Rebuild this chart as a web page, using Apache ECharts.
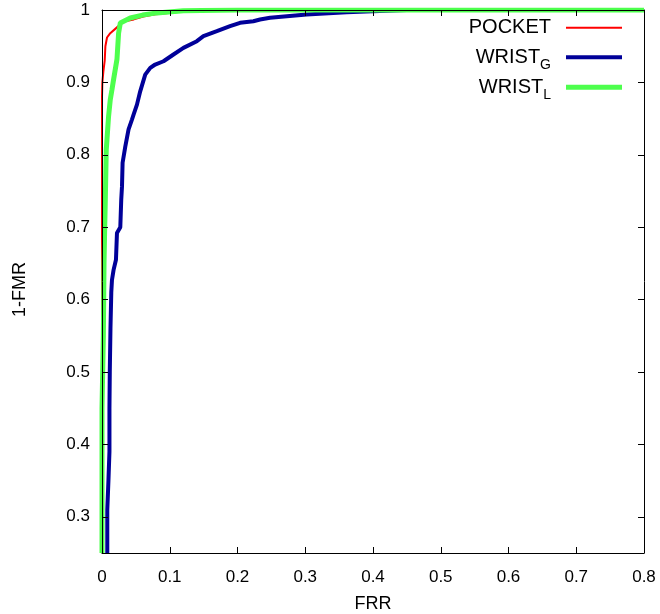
<!DOCTYPE html>
<html>
<head>
<meta charset="utf-8">
<script src="https://cdn.jsdelivr.net/npm/echarts@6/dist/echarts.min.js"></script>
<style>
  html, body { margin: 0; padding: 0; background: #fff; }
  #chart { width: 660px; height: 614px; }
</style>
</head>
<body>
<div id="chart"></div>
<script>
    // ROC-style curves: FRR on x, 1-FMR on y.
    var pocketFrr = [0, 0, 0, 0.0005, 0.002, 0.004, 0.005, 0.0074, 0.0122, 0.0221, 0.032, 0.047, 0.061, 0.079, 0.12, 0.2, 0.8];
    var pocketGar = [0.25, 0.6, 0.88, 0.9, 0.915, 0.93, 0.95, 0.962, 0.968, 0.976, 0.984, 0.987, 0.991, 0.994, 0.998, 1, 1];

    var wristGFrr = [0.0078, 0.0078, 0.0095, 0.011, 0.011, 0.0115, 0.0125, 0.0137, 0.0147, 0.0171, 0.0206, 0.0221, 0.027,
        0.0284, 0.0295, 0.0304, 0.0343, 0.0392, 0.0442, 0.0466, 0.0516, 0.0564, 0.0638, 0.0712, 0.0785, 0.0908, 0.1055,
        0.1202, 0.14, 0.1497, 0.1695, 0.189, 0.2038, 0.2234, 0.2333, 0.248, 0.302, 0.361, 0.40, 0.45, 0.8];
    var wristGGar = [0.25, 0.31, 0.35, 0.39, 0.45, 0.50, 0.56, 0.61, 0.627, 0.641, 0.655, 0.692, 0.70,
        0.738, 0.756, 0.789, 0.811, 0.835, 0.8486, 0.8555, 0.8693, 0.8877, 0.9108, 0.92, 0.9247, 0.9292, 0.9385,
        0.9477, 0.9569, 0.9638, 0.9707, 0.9776, 0.9823, 0.9845, 0.9869, 0.9892, 0.9938, 0.997, 0.9983, 1, 1];

    var wristLFrr = [0, 0, 0.002, 0.003, 0.004, 0.0049, 0.0063, 0.0097, 0.0122, 0.0147, 0.0171, 0.0221, 0.0245, 0.027, 0.0417, 0.06, 0.081, 0.12, 0.2, 0.8];
    var wristLGar = [0.25, 0.45, 0.55, 0.65, 0.70, 0.738, 0.807, 0.853, 0.876, 0.89, 0.904, 0.932, 0.968, 0.982, 0.989, 0.993, 0.996, 0.999, 1, 1];

    var yTicks = [0.3, 0.4, 0.5, 0.6, 0.7, 0.8, 0.9, 1];

    var FONT = '"Liberation Sans", Arial, Helvetica, sans-serif';
    var BLACK = '#000';

    function zip(xs, ys) {
        return xs.map(function (x, i) { return [x, ys[i]]; });
    }

    var rich = {
        a: { fontFamily: FONT, fontSize: 20, lineHeight: 30, color: BLACK },
        s: { fontFamily: FONT, fontSize: 14, lineHeight: 30, verticalAlign: 'bottom', color: BLACK },
        sp: { width: 10, lineHeight: 30 }
    };

    /** One legend box per entry so every key line lines up on the right. */
    function legendEntry(name, label, color, thick, top) {
        return {
            data: [name],
            orient: 'vertical',
            right: 38,
            top: top,
            padding: 0,
            align: 'right',
            icon: 'rect',
            itemWidth: 56,
            itemHeight: thick,
            itemStyle: { color: color, borderWidth: 0 },
            formatter: function () { return label + '{sp| }'; },
            textStyle: { rich: rich },
            selectedMode: false
        };
    }

    var tickStyle = { show: true, inside: true, length: 6, lineStyle: { color: BLACK, width: 1 } };
    var lineStyleAxis = { show: true, onZero: false, lineStyle: { color: BLACK, width: 1 } };

    var chart = echarts.init(document.getElementById('chart'), null, { renderer: 'canvas' });
    chart.setOption({
        animation: false,
        backgroundColor: '#fff',
        grid: { left: 102, right: 16, top: 10, bottom: 61, containLabel: false, outerBoundsMode: 'none' },
        legend: [
            legendEntry('POCKET', '{a|POCKET}', '#ff0000', 2, 17.7),
            legendEntry('WRIST_G', '{a|WRIST}{s|G}', '#000099', 4, 47.3),
            legendEntry('WRIST_L', '{a|WRIST}{s|L}', '#4dff4d', 5, 77.3)
        ],
        xAxis: [{
            type: 'value', min: 0, max: 0.8, interval: 0.1, z: 10,
            name: 'FRR', nameLocation: 'middle', nameGap: 42,
            nameTextStyle: { fontFamily: FONT, fontSize: 18, color: BLACK },
            axisLine: lineStyleAxis, axisTick: tickStyle,
            axisLabel: { fontFamily: FONT, fontSize: 17, color: BLACK, margin: 16 },
            splitLine: { show: false }
        }, {
            type: 'value', position: 'top', min: 0, max: 0.8, interval: 0.1, z: 10,
            axisLine: lineStyleAxis, axisTick: tickStyle,
            axisLabel: { show: false }, splitLine: { show: false }
        }],
        yAxis: [{
            type: 'value', min: 0.25, max: 1, z: 10,
            name: '1-FMR', nameLocation: 'middle', nameGap: 73, nameRotate: 90,
            nameTextStyle: { fontFamily: FONT, fontSize: 18, color: BLACK, padding: [0, 16, 0, 0] },
            axisLine: lineStyleAxis,
            axisTick: Object.assign({ customValues: yTicks }, tickStyle),
            axisLabel: { fontFamily: FONT, fontSize: 17, color: BLACK, margin: 12, customValues: yTicks },
            splitLine: { show: false }
        }, {
            type: 'value', position: 'right', min: 0.25, max: 1, z: 10,
            axisLine: lineStyleAxis,
            axisTick: Object.assign({ customValues: yTicks }, tickStyle),
            axisLabel: { show: false }, splitLine: { show: false }
        }],
        series: [{
            name: 'POCKET', type: 'line', showSymbol: false, symbol: 'none',
            data: zip(pocketFrr, pocketGar),
            lineStyle: { color: '#ff0000', width: 2 }, itemStyle: { color: '#ff0000' }
        }, {
            name: 'WRIST_G', type: 'line', showSymbol: false, symbol: 'none',
            data: zip(wristGFrr, wristGGar),
            lineStyle: { color: '#000099', width: 4 }, itemStyle: { color: '#000099' }
        }, {
            name: 'WRIST_L', type: 'line', showSymbol: false, symbol: 'none',
            data: zip(wristLFrr, wristLGar),
            lineStyle: { color: '#4dff4d', width: 5 }, itemStyle: { color: '#4dff4d' }
        }]
    });
</script>
</body>
</html>
